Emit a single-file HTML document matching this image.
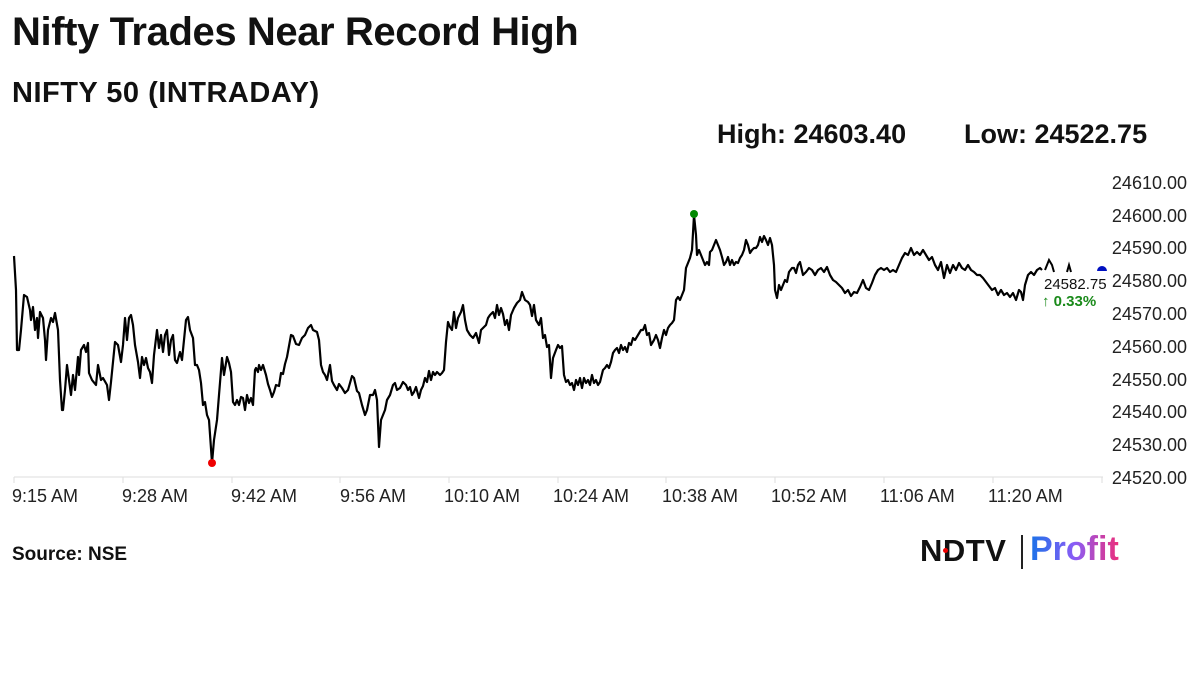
<!DOCTYPE html>
<html><head><meta charset="utf-8"><style>
body{margin:0;width:1200px;height:675px;background:#fff;font-family:"Liberation Sans",sans-serif;overflow:hidden;position:relative}
.t{position:absolute;white-space:nowrap;color:#111}
</style></head><body>
<div class="t" style="left:12px;top:10px;font-size:40px;font-weight:bold;letter-spacing:-0.4px">Nifty Trades Near Record High</div>
<div class="t" style="left:12px;top:77px;font-size:29px;font-weight:bold;letter-spacing:0.5px">NIFTY 50 (INTRADAY)</div>
<div class="t" style="left:717px;top:119px;font-size:27px;font-weight:bold">High: 24603.40</div>
<div class="t" style="left:964px;top:119px;font-size:27px;font-weight:bold">Low: 24522.75</div>
<div class="t" style="left:12px;top:544px;font-size:19px;font-weight:bold">Source: NSE</div>
<div class="t" style="left:920px;top:533px;font-size:31px;font-weight:900;letter-spacing:0.5px;font-family:'Liberation Sans',sans-serif">NDTV</div>
<div style="position:absolute;left:1021px;top:535px;width:2px;height:34px;background:#222"></div>
<div class="t" style="left:1030px;top:530px;font-size:34px;font-weight:bold;background:linear-gradient(90deg,#1a73e8,#8a5cf6,#ec2f7b);-webkit-background-clip:text;background-clip:text;color:transparent">Profit</div>
<svg width="1200" height="675" style="position:absolute;left:0;top:0">
<line x1="14" y1="477" x2="1103" y2="477" stroke="#ddd" stroke-width="1"/>
<g stroke="#ddd"><line x1="14" y1="477" x2="14" y2="483"/><line x1="123" y1="477" x2="123" y2="483"/><line x1="232" y1="477" x2="232" y2="483"/><line x1="340" y1="477" x2="340" y2="483"/><line x1="449" y1="477" x2="449" y2="483"/><line x1="558" y1="477" x2="558" y2="483"/><line x1="666" y1="477" x2="666" y2="483"/><line x1="775" y1="477" x2="775" y2="483"/><line x1="884" y1="477" x2="884" y2="483"/><line x1="993" y1="477" x2="993" y2="483"/><line x1="1102" y1="477" x2="1102" y2="483"/></g>
<g font-family="Liberation Sans,sans-serif" font-size="18" fill="#222">
<text x="12" y="502">9:15 AM</text><text x="122" y="502">9:28 AM</text><text x="231" y="502">9:42 AM</text><text x="340" y="502">9:56 AM</text><text x="444" y="502">10:10 AM</text><text x="553" y="502">10:24 AM</text><text x="662" y="502">10:38 AM</text><text x="771" y="502">10:52 AM</text><text x="880" y="502">11:06 AM</text><text x="988" y="502">11:20 AM</text>
</g>
<g font-family="Liberation Sans,sans-serif" font-size="18" fill="#222" text-anchor="end">
<text x="1187" y="189">24610.00</text><text x="1187" y="222">24600.00</text><text x="1187" y="254">24590.00</text><text x="1187" y="287">24580.00</text><text x="1187" y="320">24570.00</text><text x="1187" y="353">24560.00</text><text x="1187" y="386">24550.00</text><text x="1187" y="418">24540.00</text><text x="1187" y="451">24530.00</text><text x="1187" y="484">24520.00</text>
</g>
<polyline fill="none" stroke="#000" stroke-width="2.2" stroke-linejoin="round" points="14,256 16,290 17,350 19,350 21,330 24,295 27,297 30,310 31,320 33,307 35,330 37,318 38,338 40,312 43,318 45,340 46,360 48,330 51,318 53,322 55,313 58,330 60,380 62,410 63,410 65,390 67,365 69,380 71,395 73,375 75,390 78,357 79,375 81,350 84,345 86,352 88,343 89,373 92,380 96,385 98,365 101,380 103,378 107,385 109,400 111,382 113,362 115,342 118,345 121,362 123,345 125,318 127,340 129,318 131,315 133,325 135,345 138,362 140,378 142,357 144,365 146,358 148,368 150,372 152,383 154,355 157,330 159,348 161,335 163,352 165,335 167,330 169,355 171,340 173,335 175,360 177,363 180,352 182,360 186,320 188,317 190,330 193,338 195,365 197,365 199,370 201,383 203,405 205,402 207,415 209,420 212,463 214,440 217,420 219,395 222,358 224,375 227,357 229,363 231,372 233,402 235,405 237,400 239,405 241,397 243,398 245,410 247,395 249,403 251,398 253,405 255,370 256,368 258,372 259,365 261,370 263,365 266,375 268,384 270,390 272,397 274,392 276,385 279,386 281,373 283,374 285,364 287,357 291,335 293,336 296,344 299,345 302,338 305,335 308,328 311,325 313,330 317,332 319,340 321,365 323,372 325,375 327,380 330,365 332,381 334,385 337,390 339,384 342,388 345,393 348,390 350,383 352,376 354,378 357,391 359,393 362,405 365,415 367,410 370,395 373,395 375,390 377,400 379,447 381,420 383,415 385,410 387,400 390,395 393,385 395,383 397,390 400,388 403,382 406,385 408,390 410,387 412,395 414,392 416,387 419,398 421,390 423,386 425,378 427,382 429,371 431,380 433,372 435,375 437,372 440,375 442,373 444,370 446,342 448,322 450,327 452,330 454,312 456,328 458,318 461,312 463,305 465,320 467,330 470,335 473,338 476,333 479,343 481,330 484,327 486,325 488,318 490,315 493,312 495,318 497,305 499,315 501,308 503,314 505,325 507,320 509,330 511,315 514,308 517,303 520,300 522,292 525,300 528,302 530,305 532,316 534,305 536,320 539,325 541,318 543,338 545,335 547,347 549,345 551,378 553,358 556,350 558,345 560,348 562,346 564,375 566,382 568,380 570,385 572,383 574,390 576,380 578,385 580,378 582,388 584,378 586,383 588,380 590,385 592,375 594,383 596,380 598,385 600,382 603,370 605,368 607,365 609,368 611,362 613,353 615,350 617,348 619,353 621,345 623,350 625,347 627,352 629,343 631,345 633,338 635,340 638,335 641,330 643,330 645,325 647,335 649,333 651,345 654,340 656,335 658,340 660,348 662,338 664,330 666,335 668,328 670,325 672,323 674,320 676,300 678,297 680,300 682,295 684,290 686,268 688,263 690,258 692,250 693,233 694,215 696,235 697,255 699,250 701,255 703,260 705,265 707,262 709,265 710,252 712,250 714,245 716,240 718,245 720,250 722,257 724,265 726,262 728,257 730,265 732,260 734,265 736,262 738,263 740,258 742,255 744,250 746,240 748,245 750,253 752,250 754,248 756,248 758,245 760,237 762,242 764,236 766,240 768,245 770,238 772,245 774,265 775,290 777,298 779,285 781,290 783,285 785,280 787,282 789,272 792,268 794,268 796,273 798,265 800,262 803,275 806,272 809,268 812,270 815,275 818,270 821,268 824,272 827,267 830,275 833,280 836,282 839,285 842,288 845,293 848,290 851,296 854,292 857,293 860,287 863,280 866,288 869,290 872,283 875,275 878,270 881,268 884,270 887,268 890,272 893,270 896,272 899,265 902,258 905,253 908,255 911,248 914,255 917,252 920,255 923,250 926,255 929,260 932,257 935,265 938,270 941,262 944,278 947,265 950,273 953,265 956,270 959,263 962,268 965,270 968,265 971,270 974,272 977,275 980,275 983,278 986,282 989,286 992,290 995,288 998,295 1001,290 1004,295 1007,293 1010,297 1013,293 1016,300 1019,290 1021,292 1023,300 1025,285 1028,275 1031,272 1034,275 1037,270 1040,268 1042,270"/>
<polyline fill="none" stroke="#000" stroke-width="2" points="1045,270 1049,260 1052,265 1054,272"/>
<polyline fill="none" stroke="#000" stroke-width="2" points="1067,272 1069,265 1071,272"/>
<circle cx="212" cy="463" r="4" fill="#e00"/>
<circle cx="694" cy="214" r="4" fill="#080"/>
<path d="M1097,271 A5,5 0 0 1 1107,271 Z" fill="#0010c0"/>
<text x="1044" y="289" font-family="Liberation Sans,sans-serif" font-size="15" fill="#111">24582.75</text>
<text x="1042" y="306" font-family="Liberation Sans,sans-serif" font-size="15" font-weight="bold" fill="#1a8a1a">↑ 0.33%</text>
</svg>
<div style="position:absolute;left:943px;top:548px;width:5px;height:5px;border-radius:50%;background:#e00"></div>
</body></html>
